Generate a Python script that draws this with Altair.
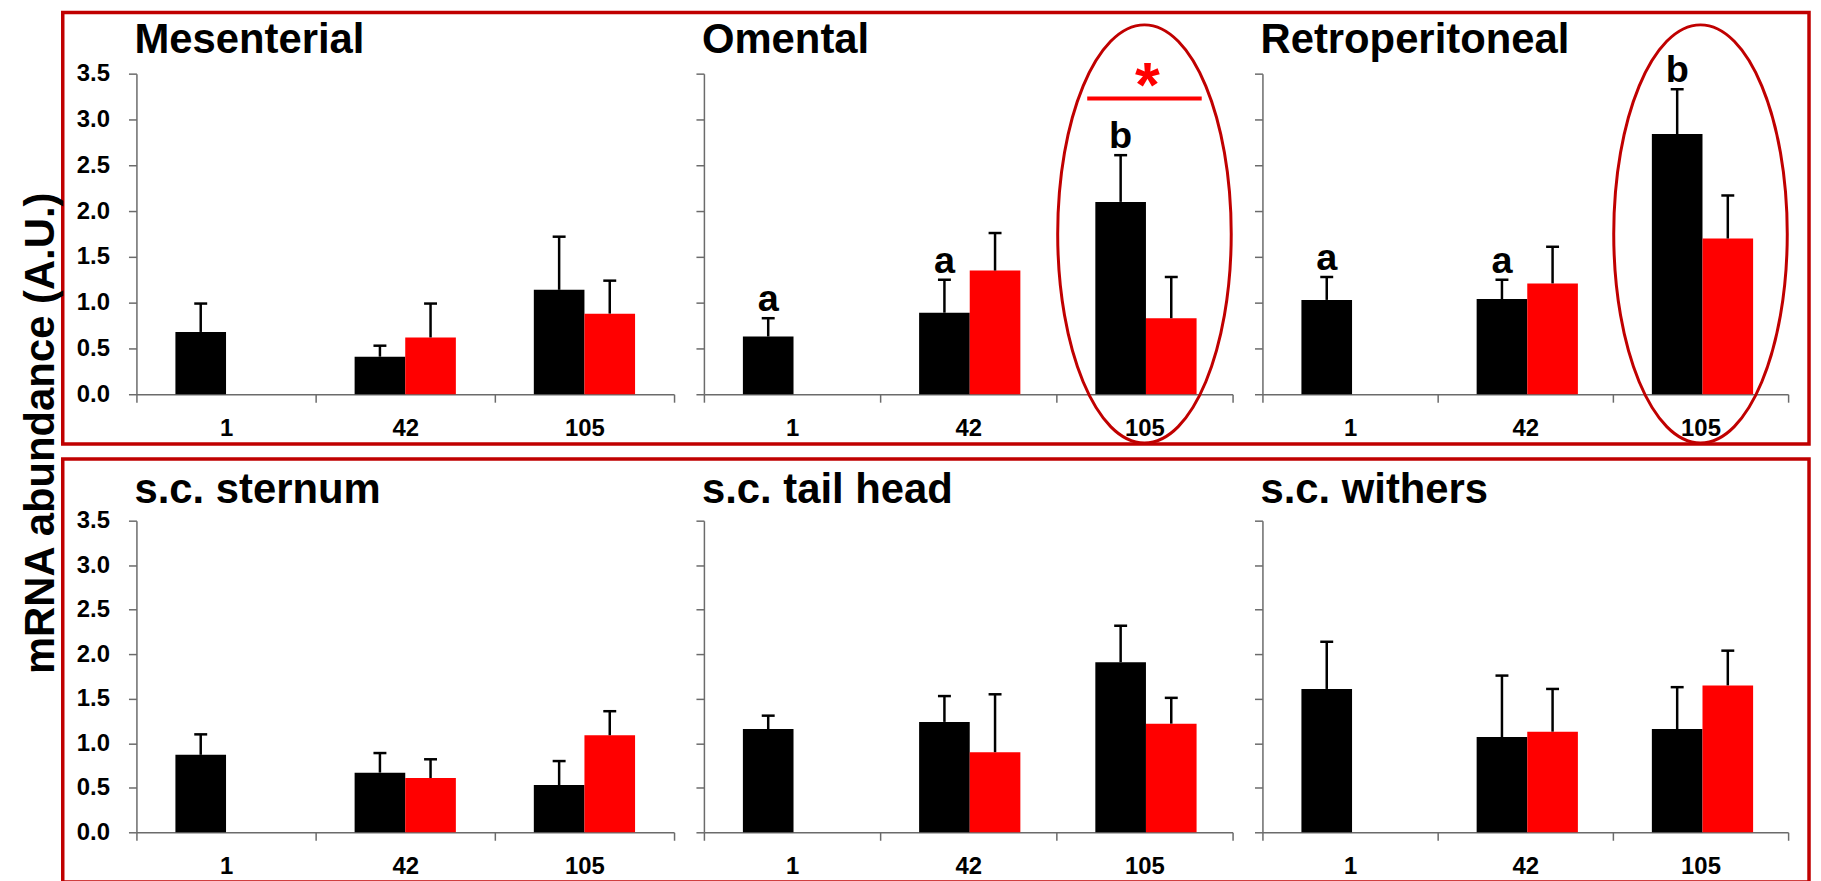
import altair as alt
import pandas as pd

FONT = "Liberation Sans"

# ---------------- data ----------------
tissues = ["Mesenterial", "Omental", "Retroperitoneal",
           "s.c. sternum", "s.c. tail head", "s.c. withers"]
days = ["1", "42", "105"]
groups = ["Group 1", "Group 2"]          # black, red

mean_black = {
    "Mesenterial":     [0.68, 0.41, 1.14],
    "Omental":         [0.63, 0.89, 2.10],
    "Retroperitoneal": [1.03, 1.04, 2.84],
    "s.c. sternum":    [0.87, 0.67, 0.53],
    "s.c. tail head":  [1.16, 1.24, 1.91],
    "s.c. withers":    [1.61, 1.07, 1.16],
}
upper_black = {
    "Mesenterial":     [0.99, 0.53, 1.72],
    "Omental":         [0.83, 1.25, 2.61],
    "Retroperitoneal": [1.28, 1.25, 3.33],
    "s.c. sternum":    [1.10, 0.89, 0.80],
    "s.c. tail head":  [1.31, 1.53, 2.32],
    "s.c. withers":    [2.14, 1.76, 1.63],
}
mean_red = {
    "Mesenterial":     [None, 0.62, 0.88],
    "Omental":         [None, 1.35, 0.83],
    "Retroperitoneal": [None, 1.21, 1.70],
    "s.c. sternum":    [None, 0.61, 1.09],
    "s.c. tail head":  [None, 0.90, 1.22],
    "s.c. withers":    [None, 1.13, 1.65],
}
upper_red = {
    "Mesenterial":     [None, 0.99, 1.24],
    "Omental":         [None, 1.76, 1.28],
    "Retroperitoneal": [None, 1.61, 2.17],
    "s.c. sternum":    [None, 0.82, 1.36],
    "s.c. tail head":  [None, 1.55, 1.51],
    "s.c. withers":    [None, 1.61, 2.04],
}
letters = {
    "Omental":         ["a", "a", "b"],
    "Retroperitoneal": ["a", "a", "b"],
}
highlight_day = {"Omental": "105", "Retroperitoneal": "105"}
sig_tissue = "Omental"
sig_day = "105"
sig_line_value = 3.23
sig_star_value = 3.47

y_domain = [0.0, 3.5]
y_ticks = [0.0, 0.5, 1.0, 1.5, 2.0, 2.5, 3.0, 3.5]

# ---------------- styling ----------------
BOX_RED = "#c00000"
BAR_COLORS = ["#000000", "#ff0000"]
col_widths = [540, 531, 528]
row_heights = [322, 313]
ELLIPSE_RY = 210
ELLIPSE_RATIO = 0.415
k = 0.5523
a = ELLIPSE_RATIO
ELLIPSE_PATH = (
    f"M 0 -1 C {a*k:.4f} -1 {a} -{k} {a} 0 "
    f"C {a} {k} {a*k:.4f} 1 0 1 "
    f"C -{a*k:.4f} 1 -{a} {k} -{a} 0 "
    f"C -{a} -{k} -{a*k:.4f} -1 0 -1 Z"
)


def make_panel(idx, tissue):
    row, col = divmod(idx, 3)
    width, height = col_widths[col], row_heights[row]

    recs = []
    for i, d in enumerate(days):
        if mean_black[tissue][i] is not None:
            recs.append({"day": d, "group": groups[0],
                         "mean": mean_black[tissue][i], "upper": upper_black[tissue][i]})
        if mean_red[tissue][i] is not None:
            recs.append({"day": d, "group": groups[1],
                         "mean": mean_red[tissue][i], "upper": upper_red[tissue][i]})
    df = pd.DataFrame(recs)

    x = alt.X("day:N", sort=days,
              scale=alt.Scale(domain=days, paddingInner=0, paddingOuter=0),
              axis=alt.Axis(title=None, labelAngle=0, tickBand="extent",
                            labelPadding=14))
    xo = alt.XOffset("group:N",
                     scale=alt.Scale(domain=groups, paddingInner=0, paddingOuter=0.77))
    yaxis = alt.Axis(title=None, values=y_ticks, format=".1f", grid=False,
                     labels=(col == 0), labelPadding=19)
    yscale = alt.Scale(domain=y_domain, nice=False, zero=True)

    base = alt.Chart(df)
    bars = base.mark_bar(strokeWidth=0).encode(
        x=x, xOffset=xo,
        y=alt.Y("mean:Q", scale=yscale, axis=yaxis),
        color=alt.Color("group:N", scale=alt.Scale(domain=groups, range=BAR_COLORS),
                        legend=None),
    )
    err = base.mark_rule(color="black", strokeWidth=2.5).encode(
        x=x, xOffset=xo,
        y=alt.Y("mean:Q", scale=yscale, axis=yaxis),
        y2="upper:Q",
    )
    caps = base.mark_tick(orient="horizontal", size=13, thickness=2.5,
                          color="black", opacity=1).encode(
        x=x, xOffset=xo,
        y=alt.Y("upper:Q", scale=yscale, axis=yaxis),
    )
    layers = [bars, err, caps]

    # panel heading drawn as a text mark so that it sits just above the plot
    tdf = pd.DataFrame({"name": [tissue]})
    layers.append(
        alt.Chart(tdf).mark_text(font=FONT, fontSize=42, fontWeight="bold",
                                 color="black", align="left",
                                 baseline="alphabetic").encode(
            x=alt.value(-2), y=alt.value(-21 if row == 0 else -18), text="name:N")
    )

    if tissue in letters:
        ldf = pd.DataFrame({
            "day": days,
            "group": [groups[0]] * 3,
            "upper": upper_black[tissue],
            "letter": letters[tissue],
        })
        layers.append(
            alt.Chart(ldf).mark_text(font=FONT, fontSize=38, fontWeight="bold",
                                     baseline="alphabetic", dy=-7, color="black").encode(
                x=x, xOffset=xo,
                y=alt.Y("upper:Q", scale=yscale, axis=yaxis),
                text="letter:N",
            )
        )

    if tissue == sig_tissue:
        sdf = pd.DataFrame({"day": [sig_day], "line": [sig_line_value],
                            "star": [sig_star_value], "mark": ["*"]})
        layers.append(
            alt.Chart(sdf).mark_tick(orient="horizontal", size=115, thickness=4,
                                     color="#ff0000", opacity=1).encode(
                x=x, y=alt.Y("line:Q", scale=yscale, axis=yaxis))
        )
        layers.append(
            alt.Chart(sdf).mark_text(font=FONT, fontSize=64, fontWeight="bold",
                                     color="#ff0000", baseline="alphabetic",
                                     dy=30, dx=3).encode(
                x=x, y=alt.Y("star:Q", scale=yscale, axis=yaxis), text="mark:N")
        )

    if tissue in highlight_day:
        edf = pd.DataFrame({"day": [highlight_day[tissue]],
                            "mid": [(y_domain[0] + y_domain[1]) / 2]})
        layers.append(
            alt.Chart(edf).mark_point(shape=ELLIPSE_PATH, size=(2 * ELLIPSE_RY) ** 2,
                                      filled=False, stroke=BOX_RED, strokeWidth=3,
                                      opacity=1).encode(
                x=x, y=alt.Y("mid:Q", scale=yscale, axis=yaxis))
        )

    if col == 0:
        # red frame around the row (decoration, pixel positions)
        bdf = pd.DataFrame({"frame": [row]})
        if row == 0:
            top, bottom = -61.5, 372
        else:
            top, bottom = -62, 363
        layers.append(
            alt.Chart(bdf).mark_rect(fill="white", fillOpacity=0, stroke=BOX_RED,
                                     strokeWidth=3.5).encode(
                x=alt.value(-74), x2=alt.value(1680),
                y=alt.value(top), y2=alt.value(bottom))
        )

    return alt.layer(*layers).properties(width=width, height=height)


panels = [make_panel(i, t) for i, t in enumerate(tissues)]

chart = alt.concat(
    *panels, columns=3, spacing={"row": 127, "column": 30}, bounds="flush"
).properties(
    title=alt.TitleParams("mRNA abundance (A.U.)", orient="left", anchor="middle",
                          font=FONT, fontSize=42, fontWeight="bold", color="black",
                          offset=-2, dx=14),
    padding={"left": 12, "top": 0, "right": 2, "bottom": 0},
).configure_view(
    stroke=None
).configure_axis(
    labelFont=FONT, labelFontSize=24, labelFontWeight="bold", labelColor="black",
    domainColor="#6b6b6b", domainWidth=1.5, tickColor="#6b6b6b", tickWidth=1.5,
    tickSize=8, grid=False,
)

chart.save("out.html", embed_options={"renderer": "svg", "actions": False})
